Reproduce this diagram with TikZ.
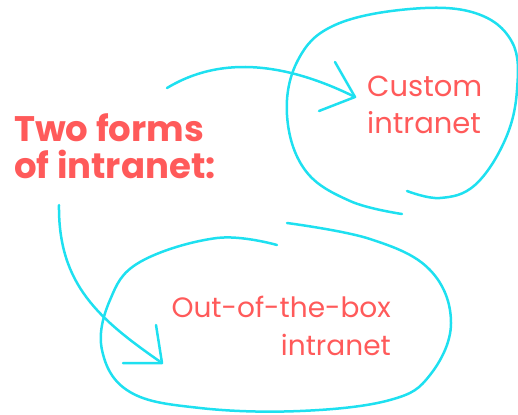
\documentclass[tikz,border=0pt]{standalone}
\usepackage{fontspec}
\setmainfont{Poppins}
\definecolor{coral}{HTML}{FF5A5A}
\definecolor{cyanline}{HTML}{1EE0F0}
\begin{document}
\begin{tikzpicture}[x=1pt,y=-1pt,
  stroke/.style={draw=cyanline,line width=2.5pt,line cap=round,line join=round},
  title/.style={text=coral,font=\bfseries\fontsize{35.5}{40}\selectfont,inner sep=0pt,anchor=base west},
  label/.style={text=coral,font=\fontsize{29}{36}\selectfont,inner sep=0pt},
  ]
\useasboundingbox (0,0) rectangle (518,414);
% texts
\node[title] (title1) at (14,142) {Two forms};
\node[title] (title2) at (14,178) {of intranet:};
\node[label,anchor=base west] (custom1) at (367,97) {Custom};
\node[label,anchor=base west] (custom2) at (367,134) {intranet};
\node[label,anchor=base east,font=\fontsize{28}{36}\selectfont] (otb1) at (391,317) {Out-of-the-box};
\node[label,anchor=base east,font=\fontsize{28}{36}\selectfont] (otb2) at (391,355) {intranet};
% upper loop
\draw[stroke] plot[smooth,tension=0.65] coordinates {(402,214) (350,201) (305,170) (287,115) (298,60) (335,25) (410,9) (475,13) (512,42) (517,90) (505,140) (475,185) (440,198) (407,191)};
% lower loop
\draw[stroke] plot[smooth,tension=0.65] coordinates {(287,223) (370,239) (430,270) (451,323) (430,375) (390,400) (300,411) (200,408) (130,392) (102,350) (110,300) (140,262) (217,238) (277,245)};
% arrow to custom
\coordinate (a1s) at (167,88);
\coordinate (a1t) at (355,97);
\draw[stroke] (a1s) .. controls (210,62) and (270,55) .. (a1t);
\draw[stroke] (335,62) -- (a1t) -- (319,111);
% arrow to out-of-the-box
\coordinate (a2s) at (59,205);
\coordinate (a2t) at (162,363);
\draw[stroke] (a2s) .. controls (58,285) and (100,320) .. (a2t);
\draw[stroke] (156,325) -- (a2t) -- (123,363);
\end{tikzpicture}
\end{document}
